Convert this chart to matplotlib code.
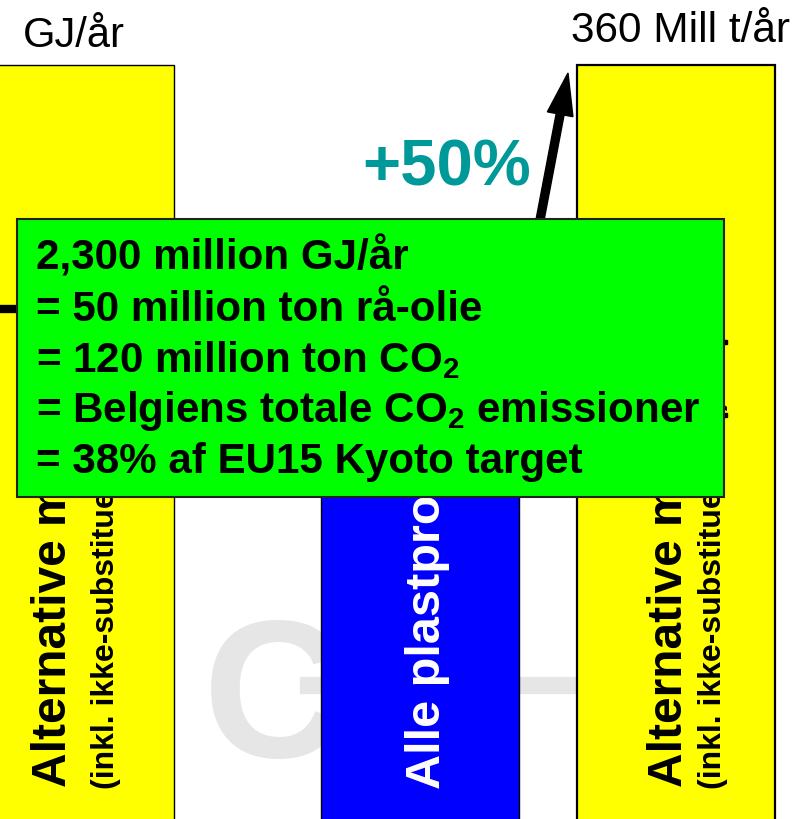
import matplotlib.pyplot as plt
from matplotlib.transforms import Affine2D
from matplotlib.patches import Rectangle, FancyArrow

plt.rcParams['font.family'] = ['Liberation Sans', 'DejaVu Sans']
plt.rcParams['mathtext.fontset'] = 'custom'
plt.rcParams['mathtext.rm'] = 'Liberation Sans:bold'
plt.rcParams['mathtext.bf'] = 'Liberation Sans:bold'
plt.rcParams['mathtext.it'] = 'Liberation Sans:bold'
plt.rcParams['mathtext.default'] = 'bf'

# data
bar_names = ["Alternative materialer", "Alle plastprodukter", "Alternative materialer"]
bar_values = [360, 240, 360]
bar_x = [75, 420, 676]
bar_colors = ["#ffff00", "#0000ff", "#ffff00"]
bar_subtitles = ["(inkl. ikke-substituerbare)", "", "(inkl. ikke-substituerbare)"]

box_lines = [
    "2,300 million GJ/år",
    "= 50 million ton rå-olie",
    "= 120 million ton CO$_2$",
    "= Belgiens totale CO$_2$ emissioner",
    "= 38% af EU15 Kyoto target",
]

W, H = 800, 819
fig = plt.figure(figsize=(W / 100, H / 100), dpi=100)
ax = fig.add_axes([0, 0, 1, 1])
ax.set_xlim(0, W)
ax.set_ylim(58.4, 386)
ax.axis('off')

# pixel coordinates, origin top-left
pix = Affine2D().scale(1 / 100, -1 / 100).translate(0, H / 100) + fig.dpi_scale_trans

# watermark behind the bars
ax.text(203, 757, "C", transform=pix, fontsize=142, fontweight='bold',
        color="#e6e6e6", ha='left', va='baseline', zorder=1)
ax.add_patch(Rectangle((300, 677), 300, 16, transform=pix, color="#e6e6e6", zorder=1))

bars = ax.bar(bar_x, bar_values, width=198, color=bar_colors,
              edgecolor="black", linewidth=1, zorder=2)
bars[2].set_linewidth(1.6)

# labels inside the bars
ax.text(54, 787, bar_names[0], transform=pix, rotation=90, fontsize=34.5,
        fontweight='bold', ha='center', va='bottom', zorder=3)
ax.text(106, 789, bar_subtitles[0], transform=pix, rotation=90, fontsize=23,
        fontweight='bold', ha='center', va='bottom', zorder=3)
ax.text(427, 789, bar_names[1], transform=pix, rotation=90, fontsize=35,
        fontweight='bold', color="white", ha='center', va='bottom', zorder=3)
ax.text(670, 787, bar_names[2], transform=pix, rotation=90, fontsize=34.5,
        fontweight='bold', ha='center', va='bottom', zorder=3)
ax.text(713, 789, bar_subtitles[2], transform=pix, rotation=90, fontsize=23,
        fontweight='bold', ha='center', va='bottom', zorder=3)

# arrows
ax.plot([0, 40], [309, 309], transform=pix, color="black", lw=6, zorder=4,
        solid_capstyle='butt')
ax.add_patch(FancyArrow(532.4, 260, 35.6, -187, width=8, head_width=26,
                        head_length=42, length_includes_head=True,
                        color="black", transform=pix, zorder=4))
for y in (342, 415):
    ax.add_patch(Rectangle((723, y - 2), 4, 4, transform=pix, color="black", zorder=4))

# green box
ax.add_patch(Rectangle((17, 219), 707, 278, transform=pix, facecolor="#00ff00",
                       edgecolor="#222222", linewidth=1.5, zorder=5))
baselines = [270, 321, 372, 422, 473]
for line, y in zip(box_lines, baselines):
    ax.text(36, y, line, transform=pix, fontsize=30.3, fontweight='bold',
            ha='left', va='baseline', zorder=6)

# header texts
ax.text(23, 47, "GJ/år", transform=pix, fontsize=30, ha='left', va='baseline')
ax.text(571, 42, "360 Mill t/år", transform=pix, fontsize=30.5, ha='left', va='baseline')
ax.text(362, 185, "+50%", transform=pix, fontsize=47, fontweight='bold',
        color="#009999", ha='left', va='baseline', zorder=4)

fig.savefig("out.png", dpi=100)
